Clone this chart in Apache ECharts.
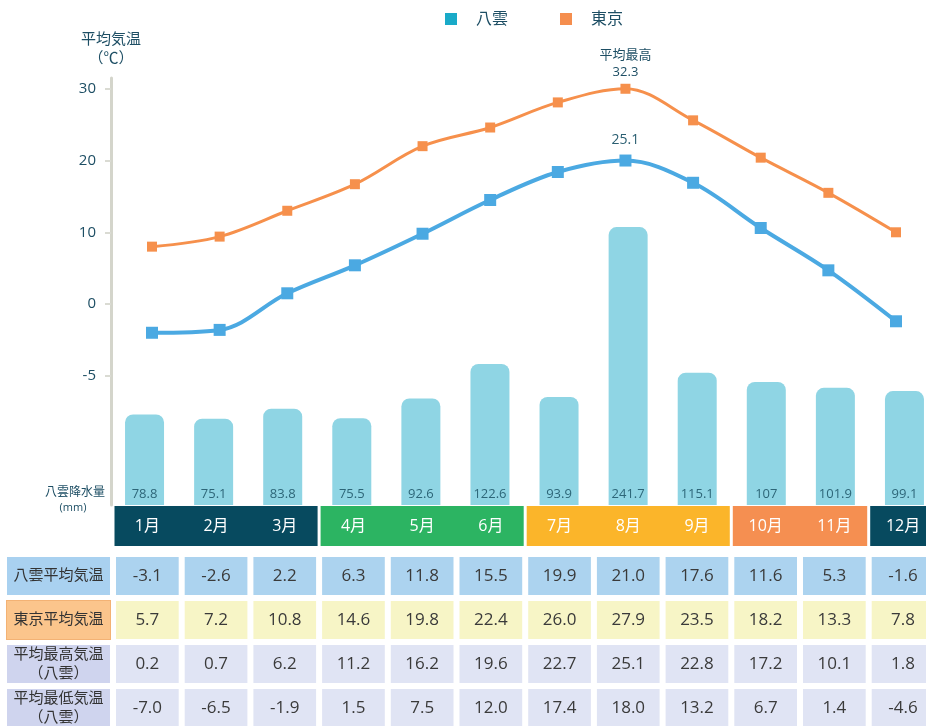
<!DOCTYPE html>
<html lang="ja">
<head>
<meta charset="utf-8">
<title>八雲と東京の気温・降水量</title>
<script src="https://cdn.jsdelivr.net/npm/echarts@6/dist/echarts.min.js"></script>
<style>
  html, body { margin: 0; padding: 0; background: #fff; }
  #main { width: 926px; height: 726px; }
</style>
</head>
<body>
<div id="main"></div>
<script>
  // データ
  var months = ['1月', '2月', '3月', '4月', '5月', '6月', '7月', '8月', '9月', '10月', '11月', '12月'];
  var yakumoLine = [-4.0, -3.6, 1.5, 5.4, 9.8, 14.5, 18.4, 20.0, 16.9, 10.6, 4.7, -2.4];
  var tokyoLine = [8.0, 9.4, 13.0, 16.7, 22.0, 24.6, 28.1, 30.0, 25.6, 20.4, 15.5, 10.0];
  var rain = [78.8, 75.1, 83.8, 75.5, 92.6, 122.6, 93.9, 241.7, 115.1, 107, 101.9, 99.1];

  var tickValues = [-10, 0, 10, 20, 30];
  var tickLabels = ['-5', '0', '10', '20', '30'];

  var peakIndex = 7;
  var yakumoPeakText = '25.1';
  var tokyoPeakText = '平均最高\n32.3';

  var seasons = [[0, 2], [3, 5], [6, 8], [9, 10], [11, 11]];
  var seasonColors = ['#074a5f', '#2cb462', '#fbb52a', '#f58f51', '#074a5f'];

  var rowNames = ['八雲平均気温', '東京平均気温', '平均最高気温\n（八雲）', '平均最低気温\n（八雲）'];
  var yakumoAvg = [-3.1, -2.6, 2.2, 6.3, 11.8, 15.5, 19.9, 21.0, 17.6, 11.6, 5.3, -1.6];
  var tokyoAvg = [5.7, 7.2, 10.8, 14.6, 19.8, 22.4, 26.0, 27.9, 23.5, 18.2, 13.3, 7.8];
  var yakumoMax = [0.2, 0.7, 6.2, 11.2, 16.2, 19.6, 22.7, 25.1, 22.8, 17.2, 10.1, 1.8];
  var yakumoMin = [-7.0, -6.5, -1.9, 1.5, 7.5, 12.0, 17.4, 18.0, 13.2, 6.7, 1.4, -4.6];
  var cellColors = ['#acd3ef', '#f7f5c6', '#e0e4f4', '#e0e4f4'];

  // 数字は Open Sans、和文は Noto Sans CJK JP
  var FONT = '"Open Sans", "Noto Sans CJK JP", sans-serif';
  var DARK = '#1d4e64';

  var tableData = [];
  [yakumoAvg, tokyoAvg, yakumoMax, yakumoMin].forEach(function (row, r) {
    row.forEach(function (v, m) { tableData.push([m, r, v]); });
  });

  var seasonData = seasons.map(function (s) { return [s[0], 0, s[1]]; });

  var myChart = echarts.init(document.getElementById('main'));

  var option = {
    animation: false,
    textStyle: { fontFamily: FONT },
    legend: {
      left: 440,
      top: 6,
      icon: 'rect',
      itemWidth: 12,
      itemHeight: 12,
      itemGap: 52,
      textStyle: { fontSize: 16, color: DARK, fontFamily: FONT, padding: [0, 0, 0, 14] },
      data: [
        { name: '八雲', itemStyle: { color: '#19aac8' } },
        { name: '東京', itemStyle: { color: '#f58e4e' } }
      ]
    },
    grid: [
      { left: 152, top: 78, width: 744, height: 427, outerBoundsMode: 'none' },    // 気温
      { left: 110, top: 160, width: 829, height: 345, outerBoundsMode: 'none' },   // 降水量
      { left: 113, top: 506, width: 824.4, height: 40, outerBoundsMode: 'none' },  // 月
      { left: 113, top: 554, width: 824.4, height: 176, outerBoundsMode: 'none' }  // 表
    ],
    xAxis: [
      { gridIndex: 0, type: 'category', data: months, boundaryGap: false, show: false },
      { gridIndex: 1, type: 'category', data: months, show: false },
      { gridIndex: 2, type: 'category', data: months, show: false },
      { gridIndex: 3, type: 'category', data: months, show: false }
    ],
    yAxis: [
      {
        gridIndex: 0, type: 'value', min: -28, max: 31.5, offset: 41,
        name: '平均気温\n（℃）',
        nameLocation: 'end',
        nameGap: 10,
        nameTextStyle: { color: DARK, fontSize: 15, lineHeight: 19, align: 'center', fontFamily: FONT },
        axisLine: { show: true, lineStyle: { color: '#d4d5cb', width: 3 } },
        axisTick: { show: true, length: 6, customValues: tickValues, lineStyle: { color: '#dadbd3', width: 2 } },
        axisLabel: {
          margin: 15, color: DARK, fontSize: 15, fontFamily: FONT, customValues: tickValues,
          formatter: function (v) { return tickLabels[tickValues.indexOf(v)]; }
        },
        splitLine: { show: false }
      },
      {
        gridIndex: 0, type: 'value', min: -28, max: 31.5, offset: 41,
        axisLine: { show: false },
        axisTick: { show: true, inside: true, length: 6, customValues: tickValues, lineStyle: { color: '#dadbd3', width: 2 } },
        axisLabel: { show: false },
        splitLine: { show: false }
      },
      { gridIndex: 1, type: 'value', min: 0, max: 300, show: false, splitLine: { show: false } },
      { gridIndex: 2, type: 'category', data: ['月'], show: false },
      {
        gridIndex: 3, type: 'category', data: rowNames, inverse: true,
        axisLine: { show: false },
        axisTick: { show: false },
        axisLabel: {
          margin: 3,
          fontFamily: FONT,
          formatter: function (v, i) { return '{h' + i + '|' + v + '}'; },
          rich: {
            h0: { backgroundColor: '#a9d1f0', width: 103, height: 38, align: 'center', fontSize: 15, color: '#333' },
            h1: { backgroundColor: '#fbc58c', borderColor: '#f3b274', borderWidth: 1, width: 103, height: 38, align: 'center', fontSize: 15, color: '#333' },
            h2: { backgroundColor: '#cfd4ee', width: 103, height: 19, lineHeight: 19, align: 'center', fontSize: 15, color: '#333' },
            h3: { backgroundColor: '#cfd4ee', width: 103, height: 19, lineHeight: 19, align: 'center', fontSize: 15, color: '#333' }
          }
        }
      }
    ],
    graphic: [
      { type: 'text', x: 75, y: 493, style: { text: '八雲降水量', fill: DARK, font: '12px ' + FONT, align: 'center', verticalAlign: 'middle' } },
      { type: 'text', x: 73, y: 508, style: { text: '(mm)', fill: DARK, font: '11px ' + FONT, align: 'center', verticalAlign: 'middle' } }
    ],
    series: [
      {
        name: '降水量',
        type: 'bar',
        xAxisIndex: 1,
        yAxisIndex: 2,
        barWidth: 39,
        z: 1,
        itemStyle: { color: '#8fd5e4', borderRadius: [8, 8, 0, 0] },
        label: { show: true, position: 'insideBottom', distance: 4, color: '#2d6678', fontSize: 13, fontFamily: FONT },
        data: rain
      },
      {
        name: '東京',
        type: 'line',
        xAxisIndex: 0,
        yAxisIndex: 0,
        smooth: 0.35,
        symbol: 'rect',
        symbolSize: 10,
        z: 3,
        lineStyle: { color: '#f6904c', width: 3 },
        itemStyle: { color: '#f6904c' },
        data: tokyoLine.map(function (v, i) {
          if (i !== peakIndex) return v;
          return { value: v, label: { show: true, position: 'top', distance: 3, formatter: tokyoPeakText, color: DARK, fontSize: 13, lineHeight: 17, fontFamily: FONT } };
        })
      },
      {
        name: '八雲',
        type: 'line',
        xAxisIndex: 0,
        yAxisIndex: 0,
        smooth: 0.35,
        symbol: 'rect',
        symbolSize: 12,
        z: 4,
        lineStyle: { color: '#4ba9e2', width: 4 },
        itemStyle: { color: '#4ba9e2' },
        data: yakumoLine.map(function (v, i) {
          if (i !== peakIndex) return v;
          return { value: v, label: { show: true, position: 'top', distance: 8, formatter: yakumoPeakText, color: '#2b5f72', fontSize: 14, fontFamily: FONT } };
        })
      },
      {
        type: 'custom',
        xAxisIndex: 2,
        yAxisIndex: 3,
        data: seasonData,
        renderItem: function (params, api) {
          var s = seasonData[params.dataIndex];
          var p0 = api.coord([s[0], 0]);
          var p1 = api.coord([s[2], 0]);
          var sz = api.size([1, 1]);
          var children = [{
            type: 'rect',
            shape: { x: p0[0] - sz[0] / 2 + 1.5, y: p0[1] - sz[1] / 2, width: p1[0] - p0[0] + sz[0] - 3, height: sz[1] },
            style: { fill: seasonColors[params.dataIndex] }
          }];
          for (var m = s[0]; m <= s[2]; m++) {
            var c = api.coord([m, 0]);
            children.push({
              type: 'text', x: c[0], y: c[1],
              style: { text: months[m], fill: '#fff', font: '16px ' + FONT, align: 'center', verticalAlign: 'middle' }
            });
          }
          return { type: 'group', children: children };
        }
      },
      {
        type: 'custom',
        xAxisIndex: 3,
        yAxisIndex: 4,
        data: tableData,
        renderItem: function (params, api) {
          var d = tableData[params.dataIndex];
          var c = api.coord([d[0], d[1]]);
          var sz = api.size([1, 1]);
          var w = sz[0] - 6, h = sz[1] - 6;
          return {
            type: 'group',
            children: [
              { type: 'rect', shape: { x: c[0] - w / 2, y: c[1] - h / 2, width: w, height: h }, style: { fill: cellColors[d[1]] } },
              { type: 'text', x: c[0], y: c[1], style: { text: d[2].toFixed(1), fill: '#3a3a3a', font: '17px ' + FONT, align: 'center', verticalAlign: 'middle' } }
            ]
          };
        }
      }
    ]
  };

  myChart.setOption(option);
</script>
</body>
</html>
